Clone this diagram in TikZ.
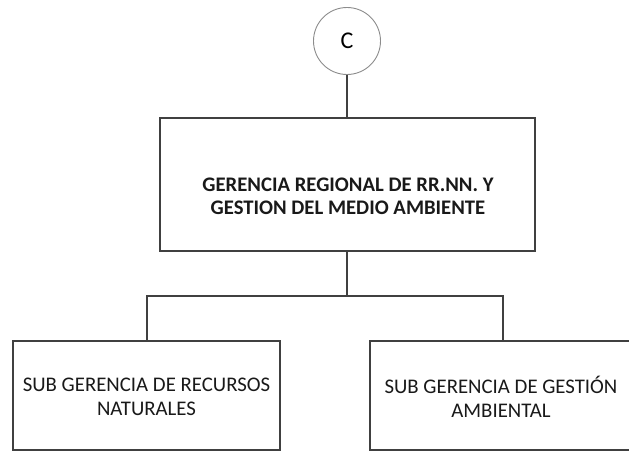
\documentclass[tikz,border=0pt]{standalone}
\usepackage{fontspec}
\setmainfont{Carlito}
\begin{document}
\begin{tikzpicture}[x=1pt,y=-1pt,
  boxst/.style={draw=black!75,line width=1.3pt,fill=none},
  conn/.style={draw=black!75,line width=1.3pt},
  circst/.style={draw=black!45,line width=0.9pt,circle,minimum size=67pt,inner sep=0pt,font=\fontsize{24}{28}\selectfont},
  lbl/.style={align=center,text=black!90}]
\useasboundingbox (0,0) rectangle (629,452);
\clip (0,0) rectangle (629,452);
\node[circst] (c) at (347,41) {C};
\draw[boxst] (160,118) rectangle (535,251);
\coordinate (mtop) at (347,118);
\coordinate (mbot) at (347,251);
\node[lbl,font=\bfseries\fontsize{20.7}{23}\selectfont] (main) at (348,196) {GERENCIA REGIONAL DE RR.NN. Y\\GESTION DEL MEDIO AMBIENTE};
\draw[boxst] (13,341) rectangle (280,450);
\draw[boxst] (370,341) rectangle (636,450);
\coordinate (ltop) at (147,341);
\coordinate (rtop) at (503,341);
\node[lbl,font=\fontsize{20.8}{24}\selectfont] (left) at (146.5,397) {SUB GERENCIA DE RECURSOS\\NATURALES};
\node[lbl,font=\fontsize{20.8}{24}\selectfont] (right) at (501,397) {SUB GERENCIA DE GESTIÓN\\AMBIENTAL};
\draw[conn] (c.south) -- (mtop);
\draw[conn] (mbot) -- (347,296);
\draw[conn] (ltop) -- (147,296) -- (503,296) -- (rtop);
\end{tikzpicture}
\end{document}
